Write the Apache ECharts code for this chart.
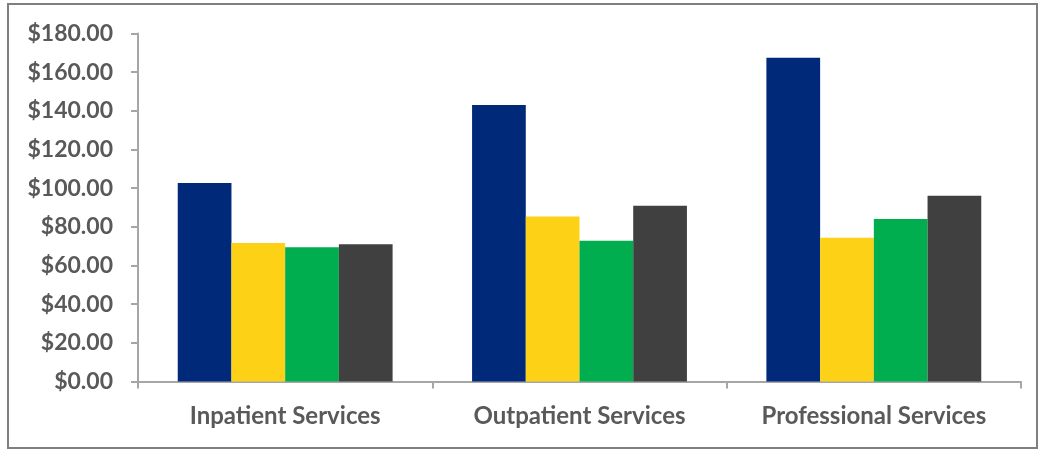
<!DOCTYPE html>
<html>
<head>
<meta charset="utf-8">
<script src="https://cdn.jsdelivr.net/npm/echarts@6/dist/echarts.min.js"></script>
<style>html,body{margin:0;padding:0;background:#fff}#c{width:1039px;height:450px}</style>
</head>
<body>
<div id="c"></div>
<script>
const categories = ['Inpatient Services', 'Outpatient Services', 'Professional Services'];
const seriesA = [102.7, 143.0, 167.4];
const seriesB = [71.6, 85.3, 74.4];
const seriesC = [69.5, 72.8, 84.1];
const seriesD = [71.0, 90.9, 96.1];
const colors = ['#00297A', '#FCD116', '#00AD4F', '#404040'];
const yTicks = { min: 0, max: 180, interval: 20 };

const chart = echarts.init(document.getElementById('c'), null, { renderer: 'canvas' });
const font = 'Lato, "Open Sans", sans-serif';
const mk = (d, i) => ({ type: 'bar', data: d, itemStyle: { color: colors[i] }, barGap: '0%', barCategoryGap: '27%' });
chart.setOption({
  animation: false,
  backgroundColor: '#fff',
  graphic: [{
    type: 'rect', shape: { x: 8, y: 4, width: 1029, height: 444 },
    style: { fill: 'none', stroke: '#7f7f7f', lineWidth: 2 }, silent: true, z: 100
  }],
  grid: { left: 138, right: 18, top: 33.5, bottom: 68.5, containLabel: false },
  xAxis: {
    type: 'category', data: categories,
    axisLine: { lineStyle: { color: '#a6a6a6', width: 2 } },
    axisTick: { show: true, length: 7, lineStyle: { color: '#a6a6a6', width: 2 } },
    axisLabel: { color: '#595959', fontFamily: font, fontWeight: 'bold', fontSize: 24, margin: 23 }
  },
  yAxis: {
    type: 'value', min: yTicks.min, max: yTicks.max, interval: yTicks.interval,
    axisLine: { show: true, lineStyle: { color: '#a6a6a6', width: 2 } },
    axisTick: { show: true, length: 7, lineStyle: { color: '#a6a6a6', width: 2 } },
    splitLine: { show: false },
    axisLabel: {
      color: '#595959', fontFamily: font, fontWeight: 'bold', fontSize: 23, margin: 25,
      formatter: v => '$' + v.toFixed(2)
    }
  },
  series: [mk(seriesA, 0), mk(seriesB, 1), mk(seriesC, 2), mk(seriesD, 3)]
});
</script>
</body>
</html>
